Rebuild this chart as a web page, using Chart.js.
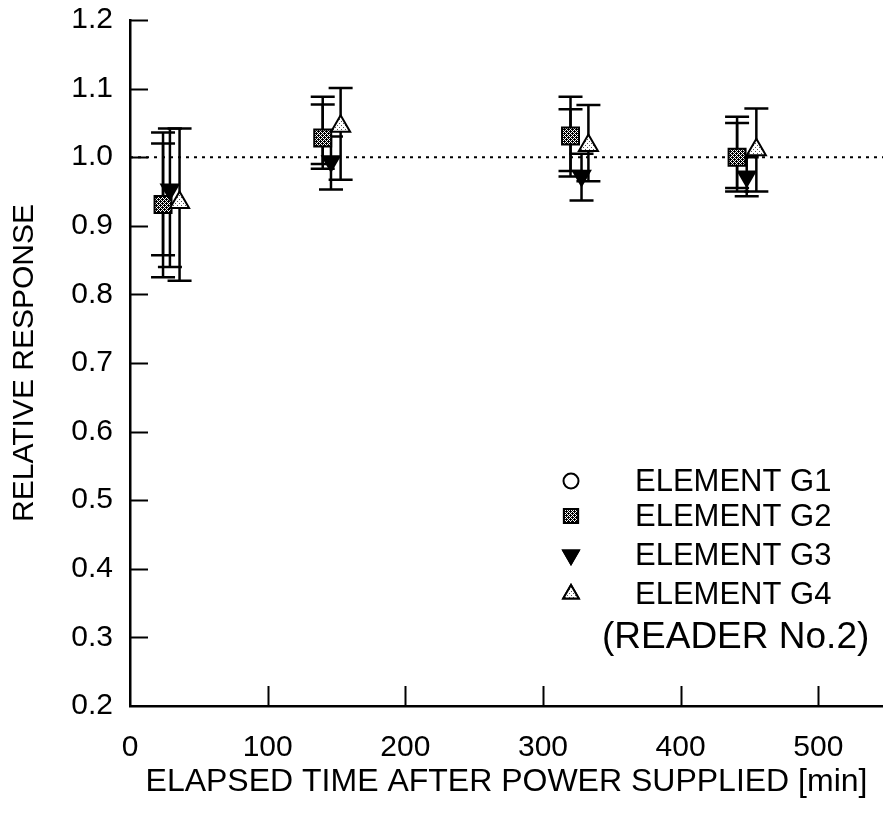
<!DOCTYPE html>
<html>
<head>
<meta charset="utf-8">
<script src="https://cdn.jsdelivr.net/npm/chart.js@4.4.0/dist/chart.umd.min.js"></script>
<style>
  html, body { margin: 0; padding: 0; background: #fff; overflow: hidden; }
  canvas { display: block; }
</style>
</head>
<body>
<canvas id="chart" width="883" height="822"></canvas>
<script>
// Elapsed time [min], relative response and error bar ends
const g1Time = [24, 140, 320, 441];
const g1Resp = [0.931, 1.028, 1.031, 1.0];
const g1Low  = [0.857, 0.99, 0.98, 0.955];
const g1High = [1.02, 1.088, 1.07, 1.05];

const g2Time = [24, 140, 320, 441];
const g2Resp = [0.931, 1.028, 1.031, 1.0];
const g2Low  = [0.825, 0.983, 0.972, 0.95];
const g2High = [1.036, 1.077, 1.088, 1.059];

const g3Time = [29, 146, 328, 448];
const g3Resp = [0.953, 0.994, 0.973, 0.972];
const g3Low  = [0.84, 0.953, 0.937, 0.943];
const g3High = [1.042, 1.03, 1.005, 1.0];

const g4Time = [36, 153, 333, 455];
const g4Resp = [0.934, 1.045, 1.017, 1.011];
const g4Low  = [0.82, 0.967, 0.965, 0.95];
const g4High = [1.042, 1.101, 1.076, 1.071];

const refTime = [0, 547];
const refResp = [1.0, 1.0];

const xTickValues = [0, 100, 200, 300, 400, 500];
const yTickValues = [0.2, 0.3, 0.4, 0.5, 0.6, 0.7, 0.8, 0.9, 1.0, 1.1, 1.2];

const seriesLabels = ['ELEMENT G1', 'ELEMENT G2', 'ELEMENT G3', 'ELEMENT G4'];
const noteText = '(READER No.2)';

const FONT = '"Liberation Sans", Arial, Helvetica, sans-serif';

// halftone look of the printed markers
function stipple(bg, dot, dots) {
  const c = document.createElement('canvas');
  c.width = 4; c.height = 4;
  const g = c.getContext('2d');
  g.fillStyle = bg;
  g.fillRect(0, 0, 4, 4);
  g.fillStyle = dot;
  dots.forEach(([dx, dy]) => g.fillRect(dx, dy, 1, 1));
  return g.createPattern(c, 'repeat');
}
const squareFill = stipple('#ffffff', '#000000', [[0,0],[2,0],[1,1],[3,1],[0,2],[2,2],[1,3],[3,3],[0,1],[2,3]]);
const triFill = stipple('#ffffff', '#555555', [[1,1],[3,3]]);

const toPoints = (xs, ys) => xs.map((v, i) => ({ x: v, y: ys[i] }));

const errorSets = [
  { time: g1Time, low: g1Low, high: g1High },
  { time: g2Time, low: g2Low, high: g2High },
  { time: g3Time, low: g3Low, high: g3High },
  { time: g4Time, low: g4Low, high: g4High }
];

const errorBars = {
  id: 'errorBars',
  beforeDatasetsDraw(chart) {
    const { ctx, scales: { x, y } } = chart;
    ctx.save();
    ctx.strokeStyle = '#000';
    ctx.lineWidth = 2.5;
    errorSets.forEach(s => {
      s.time.forEach((t, i) => {
        const px = x.getPixelForValue(t);
        const top = y.getPixelForValue(s.high[i]);
        const bot = y.getPixelForValue(s.low[i]);
        ctx.beginPath();
        ctx.moveTo(px, top); ctx.lineTo(px, bot);
        ctx.moveTo(px - 12, top); ctx.lineTo(px + 12, top);
        ctx.moveTo(px - 12, bot); ctx.lineTo(px + 12, bot);
        ctx.stroke();
      });
    });
    ctx.restore();
  }
};

// tick marks point into the plot
const innerTicks = {
  id: 'innerTicks',
  afterDraw(chart) {
    const { ctx, chartArea: a, scales: { x, y } } = chart;
    ctx.save();
    ctx.strokeStyle = '#000';
    ctx.lineWidth = 2;
    y.ticks.forEach(t => {
      if (t.value === 0.2) return;
      const py = Math.round(y.getPixelForValue(t.value)) + 0.5;
      ctx.beginPath(); ctx.moveTo(a.left, py); ctx.lineTo(a.left + 18, py); ctx.stroke();
    });
    x.ticks.forEach(t => {
      if (t.value === 0) return;
      const px = Math.round(x.getPixelForValue(t.value)) + 0.5;
      ctx.beginPath(); ctx.moveTo(px, a.bottom); ctx.lineTo(px, a.bottom - 20); ctx.stroke();
    });
    ctx.restore();
  }
};

const legendBox = {
  id: 'legendBox',
  afterDraw(chart) {
    const { ctx } = chart;
    const rows = [481, 516, 555, 594];
    ctx.save();
    ctx.fillStyle = '#000';
    ctx.font = '31px ' + FONT;
    ctx.textAlign = 'left';
    ctx.textBaseline = 'middle';
    seriesLabels.forEach((label, i) => {
      const ds = chart.data.datasets[i];
      Chart.helpers.drawPoint(ctx, {
        pointStyle: ds.pointStyle,
        radius: ds.pointStyle === 'rect' ? 10 : (ds.pointStyle === 'circle' ? 7.5 : 9),
        rotation: ds.rotation || 0,
        borderWidth: 2
      }, 571, rows[i]);
      ctx.fillStyle = ds.backgroundColor;
      ctx.strokeStyle = '#000';
      ctx.lineWidth = 2;
      ctx.fill();
      ctx.stroke();
      ctx.fillStyle = '#000';
      ctx.fillText(label, 635, rows[i] + 1);
    });
    ctx.font = '37px ' + FONT;
    ctx.fillText(noteText, 602, 638);
    ctx.restore();
  }
};

const markerBase = { showLine: false, borderColor: '#000', borderWidth: 2, pointHoverRadius: 9 };

new Chart(document.getElementById('chart'), {
  type: 'scatter',
  data: {
    datasets: [
      { ...markerBase, label: seriesLabels[0], data: toPoints(g1Time, g1Resp), pointStyle: 'circle',
        pointRadius: 6, backgroundColor: '#ffffff', order: 5 },
      { ...markerBase, label: seriesLabels[1], data: toPoints(g2Time, g2Resp), pointStyle: 'rect',
        pointRadius: 12, backgroundColor: squareFill, order: 4 },
      { ...markerBase, label: seriesLabels[2], data: toPoints(g3Time, g3Resp), pointStyle: 'triangle',
        rotation: 180, pointRotation: 180, pointRadius: 10, backgroundColor: '#000000', order: 3 },
      { ...markerBase, label: seriesLabels[3], data: toPoints(g4Time, g4Resp), pointStyle: 'triangle',
        pointRadius: 11, backgroundColor: triFill, order: 2 },
      { label: 'reference', data: toPoints(refTime, refResp), showLine: true, pointRadius: 0,
        borderColor: '#000', borderWidth: 2, borderDash: [3, 5], fill: false, order: 6 }
    ]
  },
  options: {
    responsive: false,
    animation: false,
    layout: { autoPadding: false, padding: { top: 20, right: 0, bottom: 0, left: 0 } },
    plugins: { legend: { display: false }, tooltip: { enabled: false } },
    scales: {
      x: {
        type: 'linear',
        min: 0,
        max: 547,
        afterFit: s => { s.height = 116; s.paddingLeft = 0; s.paddingRight = 0; },
        afterBuildTicks: s => { s.ticks = xTickValues.map(v => ({ value: v })); },
        grid: { display: false, drawTicks: false },
        border: { display: true, color: '#000', width: 2.5 },
        ticks: { color: '#000', padding: 24, font: { family: FONT, size: 30 } },
        title: { display: true, text: 'ELAPSED TIME AFTER POWER SUPPLIED [min]', color: '#000',
          font: { family: FONT, size: 32 }, padding: { top: 0, bottom: 21 } }
      },
      y: {
        type: 'linear',
        min: 0.2,
        max: 1.2,
        afterFit: s => { s.width = 130; s.paddingTop = 0; s.paddingBottom = 0; },
        afterBuildTicks: s => { s.ticks = yTickValues.map(v => ({ value: v })); },
        grid: { display: false, drawTicks: false },
        border: { display: true, color: '#000', width: 2.5 },
        ticks: { color: '#000', padding: 17, font: { family: FONT, size: 30 },
          callback: v => v.toFixed(1) },
        title: { display: true, text: 'RELATIVE RESPONSE', color: '#000',
          font: { family: FONT, size: 30 }, padding: { top: 7, bottom: 0 } }
      }
    }
  },
  plugins: [errorBars, innerTicks, legendBox]
});
</script>
</body>
</html>
